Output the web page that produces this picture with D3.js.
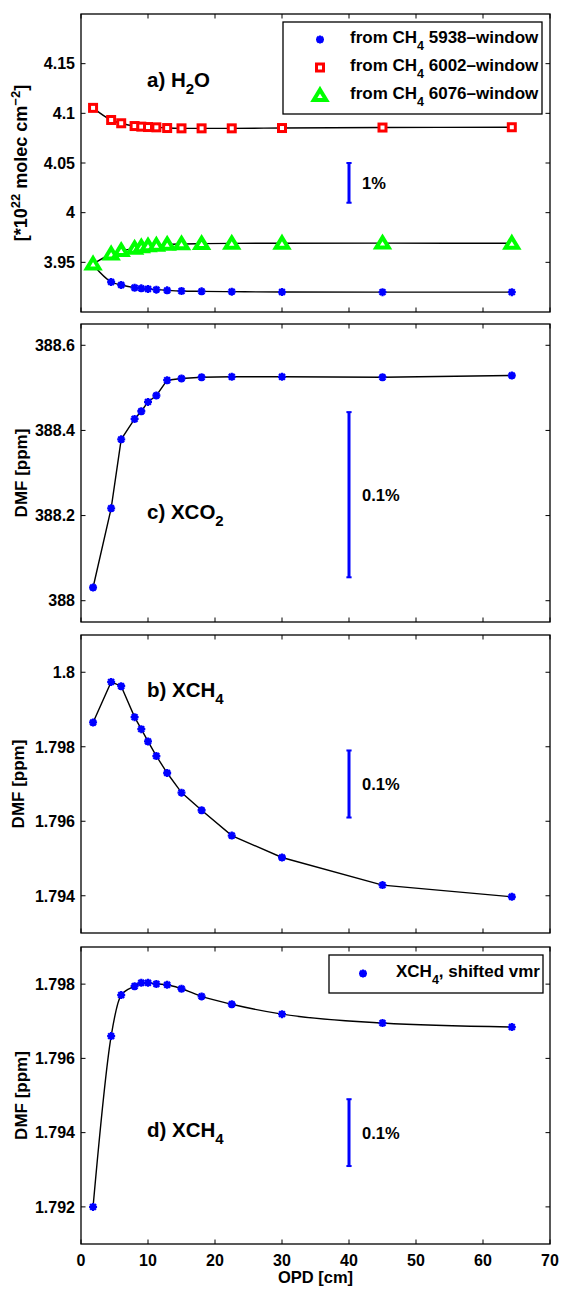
<!DOCTYPE html>
<html><head><meta charset="utf-8">
<script src="https://cdn.jsdelivr.net/npm/d3@7"></script>
<style>
body{margin:0;background:#fff}
svg{display:block}
text{font-family:"Liberation Sans",Arial,Helvetica,sans-serif;font-weight:bold;fill:#000}
</style>
</head><body>
<svg id="chart" width="563" height="1289"></svg>
<script>
// ---------- data ----------
const opd = [1.8, 4.5, 6, 8, 9, 10, 11.25, 12.86, 15, 18, 22.5, 30, 45, 64.3];
const h2o5938 = [3.9475, 3.9302, 3.9272, 3.9245, 3.9238, 3.9232, 3.9225, 3.9218, 3.9211, 3.9208, 3.9205, 3.9201, 3.9200, 3.9200];
const h2o6002 = [4.1055, 4.0933, 4.0900, 4.0872, 4.0866, 4.0862, 4.0859, 4.0852, 4.0849, 4.0849, 4.0849, 4.0852, 4.0857, 4.0860];
const h2o6076 = [3.9483, 3.9584, 3.9617, 3.9640, 3.9655, 3.9665, 3.9672, 3.9680, 3.9685, 3.9688, 3.9691, 3.9692, 3.9693, 3.9692];
const xco2 = [388.031, 388.217, 388.379, 388.427, 388.445, 388.467, 388.482, 388.518, 388.522, 388.525, 388.526, 388.526, 388.525, 388.529];
const xch4 = [1.798652, 1.799741, 1.799625, 1.798795, 1.798473, 1.798143, 1.797750, 1.797295, 1.796768, 1.796295, 1.795616, 1.795027, 1.794286, 1.793973];
const xch4Shifted = [1.792000, 1.796600, 1.797705, 1.797945, 1.798036, 1.798036, 1.798005, 1.797982, 1.797875, 1.797670, 1.797458, 1.797191, 1.796951, 1.796844];

const xTicks = [0, 10, 20, 30, 40, 50, 60, 70];
const yTicksA = [3.95, 4, 4.05, 4.1, 4.15];
const yTicksC = [388, 388.2, 388.4, 388.6];
const yTicksB = [1.794, 1.796, 1.798, 1.8];
const yTicksD = [1.792, 1.794, 1.796, 1.798];

const legendA = ["5938", "6002", "6076"];
// scale bars: [x, low, high, label]
const barA = [40, 4.01, 4.05, "1%"];
const barC = [40, 388.055, 388.443, "0.1%"];
const barB = [40, 1.7961, 1.7979, "0.1%"];
const barD = [40, 1.7931, 1.7949, "0.1%"];

// ---------- layout ----------
const svg = d3.select("#chart");
const X0 = 81, X1 = 550;
const x = d3.scaleLinear().domain([0, 70]).range([X0, X1]);
const BLUE = "#0000ff", RED = "#ff0000", GREEN = "#00ff00";

const starPath = "M-4,0H4M0,-4V4M-2.9,-2.9L2.9,2.9M-2.9,2.9L2.9,-2.9";
const triPath = "M0,-5.8L6.2,4.4L-6.2,4.4Z";

function drawMarker(g, type, cx, cy) {
  if (type === "star") {
    g.append("path").attr("d", starPath).attr("transform", `translate(${cx},${cy})`)
      .attr("stroke", BLUE).attr("stroke-width", 2.3).attr("fill", "none");
  } else if (type === "square") {
    g.append("rect").attr("x", cx - 3.5).attr("y", cy - 3.5).attr("width", 7).attr("height", 7)
      .attr("stroke", RED).attr("stroke-width", 3).attr("fill", "#fff");
  } else {
    g.append("path").attr("d", triPath).attr("transform", `translate(${cx},${cy})`)
      .attr("stroke", GREEN).attr("stroke-width", 4).attr("fill", "#fff").attr("stroke-linejoin", "miter");
  }
}

function panel(top, bottom, domain, yTicks, opts) {
  const y = d3.scaleLinear().domain(domain).range([bottom, top]);
  const g = svg.append("g");
  // series
  opts.series.forEach(s => {
    const line = d3.line().x((d, i) => x(opd[i])).y(d => y(d)).curve(opts.curve || d3.curveLinear);
    g.append("path").datum(s.values).attr("d", line)
      .attr("fill", "none").attr("stroke", "#000").attr("stroke-width", 1.4);
  });
  opts.series.forEach(s => {
    s.values.forEach((v, i) => drawMarker(g, s.marker, x(opd[i]), y(v)));
  });
  // axes box
  g.append("rect").attr("x", X0).attr("y", top).attr("width", X1 - X0).attr("height", bottom - top)
    .attr("fill", "none").attr("stroke", "#000").attr("stroke-width", 1.3);
  const tl = 4.5;
  // y ticks (left and right, inward)
  yTicks.forEach(t => {
    const yy = y(t);
    g.append("line").attr("x1", X0).attr("x2", X0 + tl).attr("y1", yy).attr("y2", yy).attr("stroke", "#000").attr("stroke-width", 1);
    g.append("line").attr("x1", X1).attr("x2", X1 - tl).attr("y1", yy).attr("y2", yy).attr("stroke", "#000").attr("stroke-width", 1);
    g.append("text").attr("x", X0 - 6).attr("y", yy).attr("dy", "0.36em").attr("text-anchor", "end")
      .attr("font-size", 16).text(d3.format("~g")(t));
  });
  // x ticks (top and bottom, inward)
  xTicks.forEach(t => {
    const xx = x(t);
    g.append("line").attr("x1", xx).attr("x2", xx).attr("y1", bottom).attr("y2", bottom - tl).attr("stroke", "#000").attr("stroke-width", 1);
    g.append("line").attr("x1", xx).attr("x2", xx).attr("y1", top).attr("y2", top + tl).attr("stroke", "#000").attr("stroke-width", 1);
    if (opts.xLabels) {
      g.append("text").attr("x", xx).attr("y", bottom + 22).attr("text-anchor", "middle")
        .attr("font-size", 16).text(t);
    }
  });
  // scale bar
  const b = opts.bar;
  const bx = x(b[0]);
  g.append("line").attr("x1", bx).attr("x2", bx).attr("y1", y(b[1])).attr("y2", y(b[2]))
    .attr("stroke", BLUE).attr("stroke-width", 3);
  [b[1], b[2]].forEach(v => {
    g.append("line").attr("x1", bx - 2.6).attr("x2", bx + 2.6).attr("y1", y(v)).attr("y2", y(v))
      .attr("stroke", BLUE).attr("stroke-width", 2);
  });
  g.append("text").attr("x", bx + 13).attr("y", y((b[1] + b[2]) / 2)).attr("dy", "0.36em")
    .attr("font-size", 16.5).text(b[3]);
  // panel label
  const lab = g.append("text").attr("x", 147).attr("y", opts.labelY).attr("font-size", 20.5);
  opts.label.forEach(p => {
    const ts = lab.append("tspan").text(p.t);
    if (p.sub) ts.attr("font-size", 15).attr("dy", 7);
    if (p.back) ts.attr("dy", -7);
  });
  // y label
  const yl = g.append("text").attr("transform", `translate(${opts.ylabX},${(top + bottom) / 2}) rotate(-90)`)
    .attr("text-anchor", "middle").attr("dy", "0.36em").attr("font-size", opts.ylabSize || 17);
  opts.ylab.forEach(p => {
    const ts = yl.append("tspan").text(p.t);
    if (p.sup) ts.attr("font-size", 13).attr("dy", -7);
    if (p.back) ts.attr("dy", 7);
  });
  return { g, y };
}

// ---------- panel a ----------
const pa = panel(14, 312, [3.9, 4.2], yTicksA, {
  series: [
    { values: h2o5938, marker: "star" },
    { values: h2o6002, marker: "square" },
    { values: h2o6076, marker: "tri" }
  ],
  curve: d3.curveMonotoneX,
  bar: barA,
  label: [{ t: "a) H" }, { t: "2", sub: true }, { t: "O", back: true }],
  labelY: 87,
  ylab: [{ t: "[*10" }, { t: "22", sup: true }, { t: " molec cm", back: true }, { t: "\u22122", sup: true }, { t: "]", back: true }],
  ylabX: 21,
  ylabSize: 18
});
// legend a
{
  const g = pa.g;
  g.append("rect").attr("x", 283).attr("y", 22).attr("width", 259).attr("height", 92)
    .attr("fill", "#fff").attr("stroke", "#000").attr("stroke-width", 1.3);
  const mk = ["star", "square", "tri"];
  const rows = [39.5, 67.5, 95.5];
  legendA.forEach((w, i) => {
    drawMarker(g, mk[i], 320, rows[i]);
    const t = g.append("text").attr("x", 350).attr("y", rows[i] + 3).attr("font-size", 17);
    t.append("tspan").text("from CH");
    t.append("tspan").text("4").attr("font-size", 12.5).attr("dy", 7);
    t.append("tspan").text(" " + w + "\u2013window").attr("dy", -7);
  });
}

// ---------- panel c ----------
panel(324, 622, [387.95, 388.65], yTicksC, {
  series: [{ values: xco2, marker: "star" }],
  bar: barC,
  label: [{ t: "c) XCO" }, { t: "2", sub: true }],
  labelY: 519,
  ylab: [{ t: "DMF [ppm]" }],
  ylabX: 21
});

// ---------- panel b ----------
panel(635, 933, [1.793, 1.801], yTicksB, {
  series: [{ values: xch4, marker: "star" }],
  bar: barB,
  label: [{ t: "b) XCH" }, { t: "4", sub: true }],
  labelY: 697,
  ylab: [{ t: "DMF [ppm]" }],
  ylabX: 18
});

// ---------- panel d ----------
const pd = panel(947, 1244, [1.791, 1.799], yTicksD, {
  series: [{ values: xch4Shifted, marker: "star" }],
  curve: d3.curveMonotoneX,
  bar: barD,
  label: [{ t: "d) XCH" }, { t: "4", sub: true }],
  labelY: 1137,
  ylab: [{ t: "DMF [ppm]" }],
  ylabX: 21,
  xLabels: true
});
{
  const g = pd.g;
  g.append("rect").attr("x", 329).attr("y", 955).attr("width", 214).attr("height", 38)
    .attr("fill", "#fff").attr("stroke", "#000").attr("stroke-width", 1.3);
  drawMarker(g, "star", 363, 973.5);
  const t = g.append("text").attr("x", 396).attr("y", 976.5).attr("font-size", 17);
  t.append("tspan").text("XCH");
  t.append("tspan").text("4").attr("font-size", 12.5).attr("dy", 7);
  t.append("tspan").text(", shifted vmr").attr("dy", -7);
  g.append("text").attr("x", (X0 + X1) / 2).attr("y", 1283).attr("text-anchor", "middle")
    .attr("font-size", 16.5).text("OPD [cm]");
}
</script>
</body></html>
